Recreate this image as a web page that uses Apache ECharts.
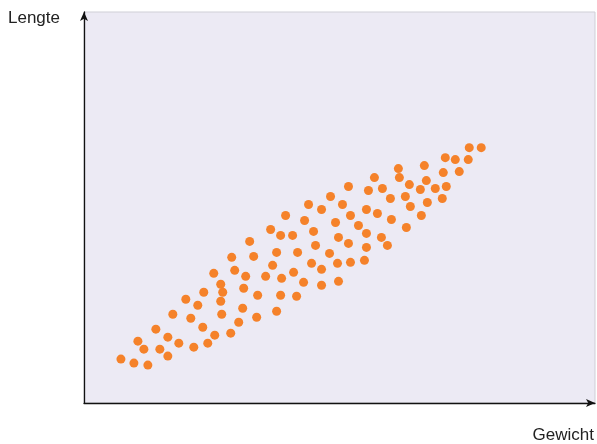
<!DOCTYPE html>
<html>
<head>
<meta charset="utf-8">
<script src="https://cdn.jsdelivr.net/npm/echarts@6/dist/echarts.min.js"></script>
<style>
  html, body { margin: 0; padding: 0; background: #fff; }
  #chart { width: 597px; height: 444px; }
</style>
</head>
<body>
<div id="chart"></div>
<script>
const gewicht = [
  7.4, 10, 12.8, 10.8, 12, 15.2, 16.8, 14.4, 16.8, 17.8,
  19, 20.4, 21.4, 22, 22.8, 23.8, 24, 24.8, 26, 26.2,
  27.4, 27.8, 27.4, 27.6, 29.4, 29.6, 30.2, 31, 31.8, 32,
  32.4, 33.2, 34, 34.8, 34.6, 36.4, 37.4, 37.8, 38.6, 38.6,
  39.4, 39.6, 39.4, 40.4, 41.8, 42, 42.6, 42.8, 44, 44.2,
  45, 45.6, 46, 46.4, 47.6, 47.6, 47.6, 49.2, 49.4, 50.4,
  50.8, 51, 51, 51.8, 53, 53, 53.4, 53.4, 55, 56.2,
  56.6, 56.6, 56.6, 57, 58.2, 58.8, 59.6, 59.8, 60.8, 61.4,
  61.6, 63, 63.2, 64.4, 64.6, 65.2, 65.4, 67.4, 67.6, 68.2,
  68.6, 68.8, 70.4, 71.8, 72, 72.4, 72.6, 74.4, 75.2, 77,
  77.2, 79.6
];
const lengte = [
  8.8, 8, 7.6, 12.4, 10.8, 10.8, 9.4, 14.8, 13.2, 17.8,
  12, 20.8, 17, 11.2, 19.6, 15.2, 22.2, 12, 26, 13.6,
  23.8, 22.2, 20.4, 17.8, 14, 29.2, 26.6, 16.2, 19, 23,
  25.4, 32.4, 29.4, 21.6, 17.2, 25.4, 34.8, 27.6, 30.2, 18.4,
  33.6, 25, 21.6, 37.6, 33.6, 26.2, 21.4, 30.2, 24.2, 36.6,
  39.8, 28, 34.4, 31.6, 38.8, 26.8, 23.6, 30, 41.4, 36.2,
  28, 33.2, 24.4, 39.8, 43.4, 32, 37.6, 28.2, 35.6, 28.6,
  38.8, 34, 31.2, 42.6, 45.2, 38, 33.2, 43, 31.6, 41,
  36.8, 47, 45.2, 41.4, 35.2, 43.8, 39.4, 42.8, 37.6, 47.6,
  44.6, 40.2, 43, 41, 46.2, 49.2, 43.4, 48.8, 46.4, 48.8,
  51.2, 51.2
];

const punten = gewicht.map((g, i) => [g, lengte[i]]);

const chart = echarts.init(document.getElementById('chart'), null, {renderer: 'canvas'});
const tekst = {
  fontFamily: '"Liberation Sans Narrow", "Liberation Sans", sans-serif',
  fontSize: 17,
  color: '#222'
};
chart.setOption({
  animation: false,
  grid: {
    left: 84,
    right: 1,
    top: 12,
    bottom: 40,
    show: true,
    backgroundColor: '#ECEAF4',
    borderColor: '#cfcfd6',
    borderWidth: 1
  },
  xAxis: {
    type: 'value',
    min: 0,
    max: 102.4,
    name: 'Gewicht',
    nameLocation: 'end',
    nameGap: -1,
    nameTextStyle: Object.assign({}, tekst, {
      align: 'right',
      verticalAlign: 'top',
      padding: [24, 0, 0, 0]
    }),
    axisLine: {
      show: true,
      symbol: ['none', 'arrow'],
      symbolSize: [6, 9],
      lineStyle: {color: '#111', width: 1.3}
    },
    axisTick: {show: false},
    axisLabel: {show: false},
    splitLine: {show: false}
  },
  yAxis: {
    type: 'value',
    min: 0,
    max: 78.4,
    name: 'Lengte',
    nameLocation: 'end',
    nameGap: -6,
    nameTextStyle: Object.assign({}, tekst, {
      align: 'right',
      verticalAlign: 'middle',
      padding: [0, 24, 0, 0]
    }),
    axisLine: {
      show: true,
      symbol: ['none', 'arrow'],
      symbolSize: [6, 9],
      lineStyle: {color: '#111', width: 1.3}
    },
    axisTick: {show: false},
    axisLabel: {show: false},
    splitLine: {show: false}
  },
  series: [
    {
      type: 'scatter',
      symbolSize: 9,
      itemStyle: {color: '#F5822A', opacity: 1},
      data: punten
    }
  ]
});
</script>
</body>
</html>
